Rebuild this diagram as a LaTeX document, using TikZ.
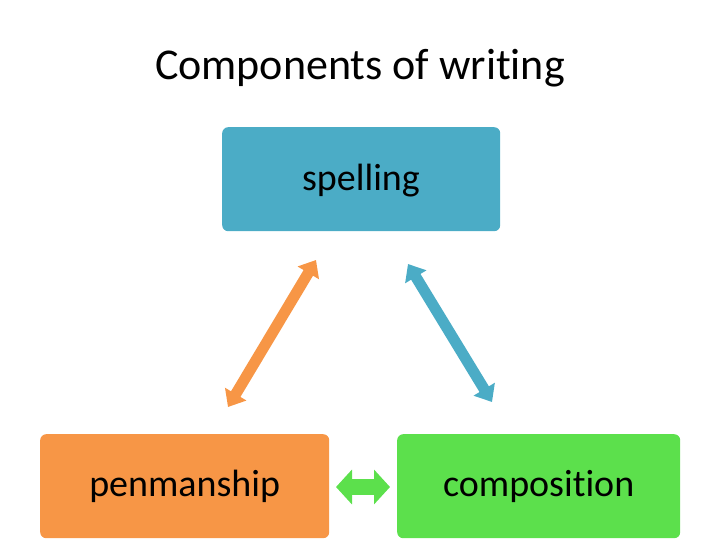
\documentclass[tikz,border=0pt]{standalone}
\usepackage{fontspec}
\setmainfont[Ligatures=NoCommon]{Carlito}
\usetikzlibrary{arrows.meta}
\definecolor{cblue}{HTML}{4BACC6}
\definecolor{corange}{HTML}{F79646}
\definecolor{cgreen}{HTML}{5CE04C}
\tikzset{
 box/.style={rounded corners=6pt,minimum width=#1,minimum height=104pt,inner sep=0pt,font=\fontsize{38}{42}\selectfont},
 dbl/.style={line width=11pt,{Triangle[width=24pt,length=15pt]}-{Triangle[width=24pt,length=15pt]}},
}
\begin{document}
\begin{tikzpicture}[x=1pt,y=-1pt]
\useasboundingbox (0,0) rectangle (720,540);
\node[font=\fontsize{44}{48}\selectfont] (title) at (360,68) {Components of writing};
\node[box=278pt,fill=cblue,anchor=north west] (sp) at (222,127) {};
\node[font=\fontsize{38}{42}\selectfont] (spt) at (361,181) {spelling};
\node[box=289pt,fill=corange,anchor=north west] (pe) at (40,434) {penmanship};
\node[box=283pt,fill=cgreen,anchor=north west] (co) at (397,434) {composition};
\coordinate (a1) at (316,260); \coordinate (a2) at (228,407);
\coordinate (b1) at (408,264); \coordinate (b2) at (492,402);
\coordinate (c1) at (336,487); \coordinate (c2) at (390,487);
\draw[dbl,draw=corange,fill=corange] (a1) -- (a2);
\draw[dbl,draw=cblue,fill=cblue] (b1) -- (b2);
\draw[dbl,draw=cgreen,fill=cgreen,line width=16pt,{Triangle[width=34pt,length=16pt]}-{Triangle[width=34pt,length=16pt]}] (c1) -- (c2);
\end{tikzpicture}
\end{document}
